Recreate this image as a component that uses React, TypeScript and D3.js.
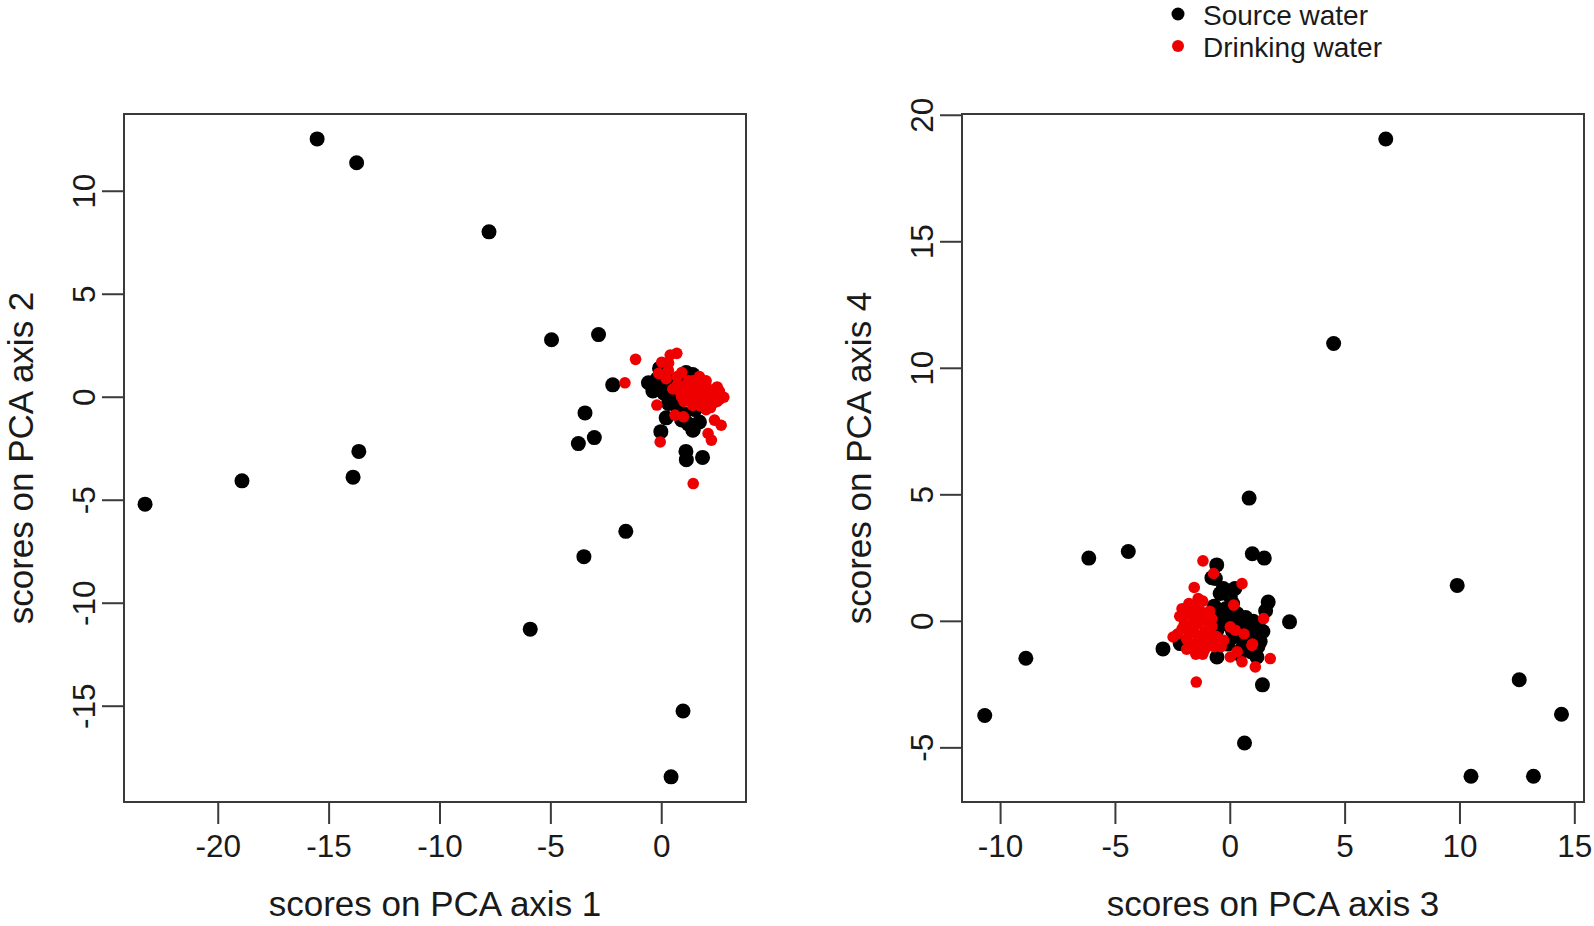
import React from "react";
import * as d3 from "d3";

// ---- Data ----
const plot1Source: [number, number][] = [
  [-15.54, 12.54], [-13.76, 11.38], [-7.79, 8.03], [-4.97, 2.79], [-2.85, 3.04],
  [-2.21, 0.6], [-3.46, -0.76], [-3.76, -2.25], [-3.04, -1.96], [-13.66, -2.63],
  [-13.92, -3.88], [-18.93, -4.06], [-23.3, -5.19], [-1.62, -6.51], [-3.51, -7.74],
  [-5.93, -11.26], [0.96, -15.23], [0.42, -18.43],
  [-0.6, 0.7], [-0.3, 0.5], [-0.1, 1.4], [0.2, 1.0], [0.4, 0.7], [0.1, 0.2], [0.5, 0.3],
  [0.8, 0.9], [1.1, 1.2], [1.4, 1.1], [1.6, 0.8], [1.9, 0.6], [0.3, -0.3], [0.7, -0.5],
  [1.0, -0.8], [1.2, -1.3], [1.4, -1.6], [0.9, -1.1], [0.0, 0.6], [-0.4, 0.3], [0.6, 0.1],
  [1.3, 0.4], [2.0, -0.4], [1.5, -0.6], [0.2, -1.0], [-0.04, -1.67], [1.09, -2.63],
  [1.11, -3.03], [1.84, -2.92], [1.42, -1.58], [-0.2, 0.9], [0.9, 0.5], [1.7, -1.2], [2.2, 0.2],
];
const plot1Drinking: [number, number][] = [
  [-1.18, 1.84], [-1.66, 0.7], [0.38, 2.05], [0.68, 2.13], [0.31, 1.66], [-0.14, 1.16],
  [-0.22, -0.38], [0.6, -0.87], [0.98, -0.95], [2.38, -1.11], [2.68, -1.36], [2.09, -1.76],
  [2.24, -2.08], [-0.07, -2.17], [1.42, -4.19],
  [0.7, 0.6], [1.0, 0.3], [1.2, 0.8], [1.5, 0.5], [1.8, 0.2], [2.1, 0.4], [2.4, 0.1],
  [2.6, -0.1], [2.8, 0.0], [2.3, -0.3], [1.9, -0.2], [1.6, -0.1], [1.3, 0.0], [1.0, -0.2],
  [0.9, 0.0], [2.0, 0.8], [1.7, 1.0], [2.5, 0.5], [1.4, -0.4], [2.2, -0.5], [0.5, 0.4],
  [0.3, 1.3], [0.0, 1.7],
  [1.1, 0.6], [1.4, 0.8], [1.7, 0.6], [2.0, 0.3], [2.3, 0.2], [2.6, 0.3], [1.2, 0.2],
  [1.5, 0.2], [1.8, -0.1], [2.1, -0.1], [2.5, -0.2], [0.8, 0.3], [1.1, -0.1], [1.7, -0.4],
  [2.0, -0.6], [0.7, 1.0], [0.2, 0.9], [0.9, 1.2],
];
const plot2Source: [number, number][] = [
  [6.77, 19.06], [4.5, 10.98], [0.82, 4.87], [-6.16, 2.5], [-4.44, 2.76], [0.96, 2.67],
  [1.48, 2.5], [9.88, 1.42], [2.58, -0.02], [-8.9, -1.46], [-10.69, -3.72], [-2.93, -1.09],
  [1.4, -2.51], [0.62, -4.81], [12.58, -2.31], [14.42, -3.67], [10.48, -6.12], [13.2, -6.12],
  [-0.59, 2.23], [-0.8, 1.72], [-0.65, 1.69], [1.65, 0.76], [1.54, 0.42], [0.67, 0.15],
  [1.42, -0.4], [0.89, -0.55], [-0.44, 1.1], [0.0, 0.97], [-0.44, 0.17], [-0.58, -0.35],
  [1.31, -0.35], [-2.18, -0.88], [-0.58, -1.41], [1.16, -1.41], [-0.2, 0.5], [0.3, 0.3],
  [-0.3, -0.1], [0.2, -0.6], [0.6, -0.9], [0.9, -1.2], [0.4, -1.3], [-0.1, -0.9], [1.0, 0.0],
  [-0.7, 0.6], [0.1, 0.7], [1.2, -1.0], [0.5, -0.2], [-0.9, -0.8],
  [0.0, 0.3], [0.3, -0.2], [0.7, -0.3], [0.1, -0.4], [0.4, 0.1], [0.8, -0.7], [1.1, -0.6],
  [0.2, 1.3], [-0.3, 1.3], [0.5, -1.1], [1.3, -0.8], [-0.2, 0.0],
];
const plot2Drinking: [number, number][] = [
  [-1.19, 2.39], [-0.73, 1.89], [0.51, 1.49], [-1.57, 1.34], [-1.31, 0.77], [0.15, 0.64],
  [1.45, 0.11], [0.0, -0.22], [0.22, -0.35], [-0.29, -0.75], [-2.49, -0.62], [0.94, -0.95],
  [0.0, -1.41], [0.51, -1.6], [1.74, -1.47], [1.09, -1.8], [-1.48, -2.4], [0.97, -0.9],
  [-2.1, 0.5], [-1.8, 0.3], [-1.5, 0.5], [-1.2, 0.2], [-0.9, 0.4], [-2.0, -0.1], [-1.7, -0.3],
  [-1.4, -0.1], [-1.1, -0.4], [-0.8, -0.2], [-1.9, -0.7], [-1.6, -0.9], [-1.3, -1.1],
  [-1.0, -0.8], [-1.5, -1.3], [-1.2, 0.8], [-1.6, 0.0], [-2.2, 0.2], [-0.6, -0.6],
  [-0.4, -1.0], [0.3, -1.2], [0.6, -0.5], [-1.9, -1.1], [-1.0, 0.0],
  [-1.9, 0.3], [-1.6, 0.2], [-1.3, 0.4], [-1.0, 0.3], [-1.8, -0.4], [-1.5, -0.5],
  [-1.2, -0.6], [-0.9, -0.5], [-1.7, -1.0], [-1.4, -0.8], [-1.1, -1.1], [-2.1, -0.3],
  [-1.4, 0.9], [-1.8, 0.7], [-0.7, -1.0], [-1.2, -1.3], [-0.8, 0.1], [-2.3, -0.5],
];
const plot1XTicks = [-20, -15, -10, -5, 0];
const plot1YTicks = [-15, -10, -5, 0, 5, 10];
const plot2XTicks = [-10, -5, 0, 5, 10, 15];
const plot2YTicks = [-5, 0, 5, 10, 15, 20];
const legendLabels = ["Source water", "Drinking water"];
const seriesColors = ["#000000", "#ee0000"];

const FONT = "'Liberation Sans', Arial, Helvetica, sans-serif";
const AXIS = "#3a3a3a";
const TXT = "#1a1a1a";

type PanelProps = {
  left: number; right: number; top: number; bottom: number;
  xDomain: [number, number]; yDomain: [number, number];
  xTicks: number[]; yTicks: number[];
  source: [number, number][]; drinking: [number, number][];
  xTitle: string; yTitle: string;
};

function Panel(p: PanelProps) {
  const x = d3.scaleLinear().domain(p.xDomain).range([p.left, p.right]);
  const y = d3.scaleLinear().domain(p.yDomain).range([p.bottom, p.top]);
  const tick = 22;
  const cx = (p.left + p.right) / 2;
  const cy = (p.top + p.bottom) / 2;
  return (
    <g>
      <rect x={p.left} y={p.top} width={p.right - p.left} height={p.bottom - p.top}
        fill="none" stroke={AXIS} strokeWidth={2} />
      {p.xTicks.map((t) => (
        <g key={"x" + t}>
          <line x1={x(t)} x2={x(t)} y1={p.bottom} y2={p.bottom + tick} stroke={AXIS} strokeWidth={2} />
          <text x={x(t)} y={p.bottom + 55} textAnchor="middle" fontSize={31.5} fill={TXT} fontFamily={FONT}>{t}</text>
        </g>
      ))}
      {p.yTicks.map((t) => (
        <g key={"y" + t}>
          <line x1={p.left - tick} x2={p.left} y1={y(t)} y2={y(t)} stroke={AXIS} strokeWidth={2} />
          <text transform={`translate(${p.left - 29},${y(t)}) rotate(-90)`} textAnchor="middle"
            fontSize={31.5} fill={TXT} fontFamily={FONT}>{t}</text>
        </g>
      ))}
      <text x={cx} y={916} textAnchor="middle" fontSize={35} fill={TXT} fontFamily={FONT}>{p.xTitle}</text>
      <text transform={`translate(${p.left - 91},${cy}) rotate(-90)`} textAnchor="middle"
        fontSize={35} fill={TXT} fontFamily={FONT}>{p.yTitle}</text>
      {p.source.map((d, i) => (
        <circle key={"s" + i} cx={x(d[0])} cy={y(d[1])} r={7.5} fill={seriesColors[0]} />
      ))}
      {p.drinking.map((d, i) => (
        <circle key={"d" + i} cx={x(d[0])} cy={y(d[1])} r={5.8} fill={seriesColors[1]} />
      ))}
    </g>
  );
}

export default function App() {
  return (
    <svg width={1594} height={926} style={{ position: "absolute", left: 0, top: 0, background: "#fff" }}>
      <rect width={1594} height={926} fill="#fff" />
      <Panel left={124} right={746} top={114} bottom={802}
        xDomain={[-24.25, 3.8]} yDomain={[-19.65, 13.75]}
        xTicks={plot1XTicks} yTicks={plot1YTicks}
        source={plot1Source} drinking={plot1Drinking}
        xTitle="scores on PCA axis 1" yTitle="scores on PCA axis 2" />
      <Panel left={962} right={1584} top={114} bottom={802}
        xDomain={[-11.68, 15.4]} yDomain={[-7.14, 20.05]}
        xTicks={plot2XTicks} yTicks={plot2YTicks}
        source={plot2Source} drinking={plot2Drinking}
        xTitle="scores on PCA axis 3" yTitle="scores on PCA axis 4" />
      {legendLabels.map((lab, i) => (
        <g key={lab}>
          <circle cx={1178} cy={14 + i * 32} r={i === 0 ? 6.5 : 6} fill={seriesColors[i]} />
          <text x={1203} y={25 + i * 32} fontSize={28} fill={TXT} fontFamily={FONT}>{lab}</text>
        </g>
      ))}
    </svg>
  );
}
